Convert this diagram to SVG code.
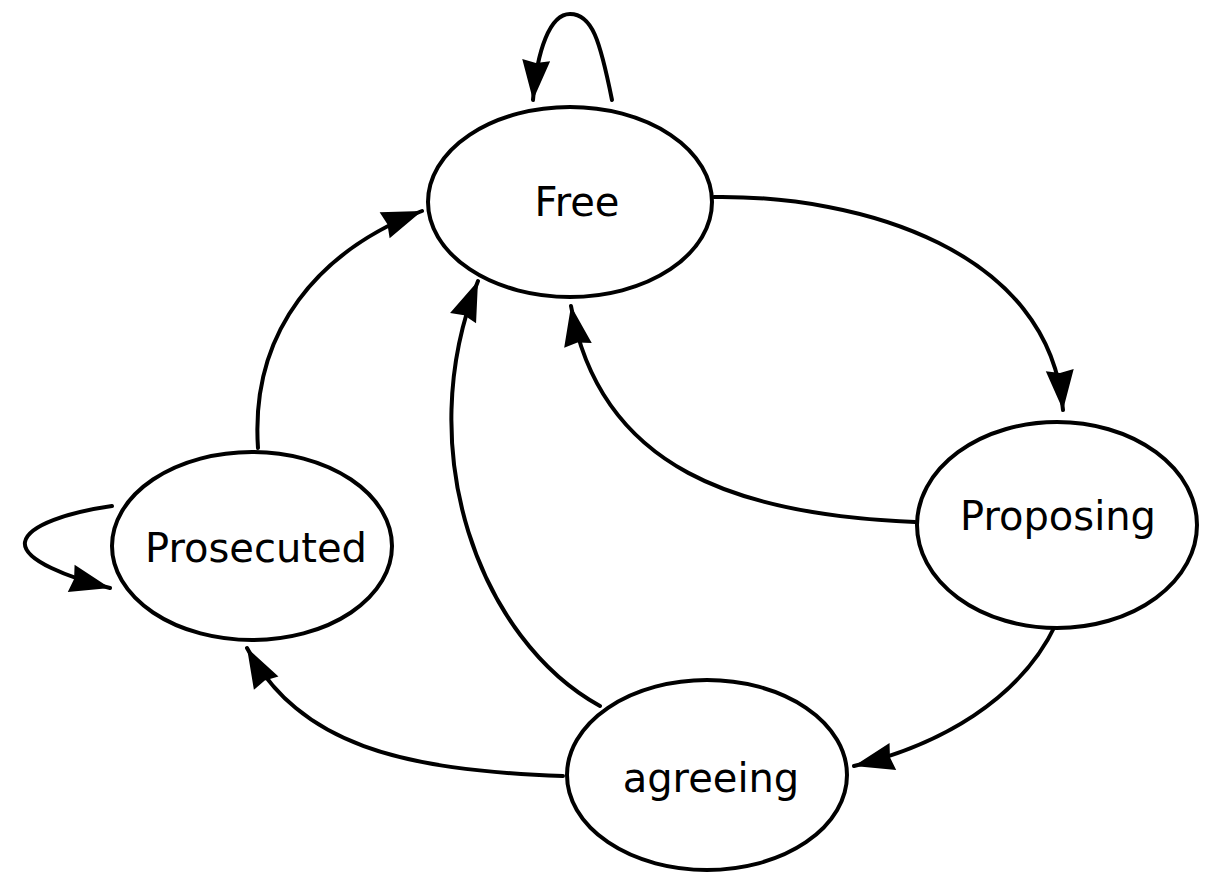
<svg xmlns="http://www.w3.org/2000/svg" width="1220" height="875" viewBox="0 0 1220 875">
  <style>
    .state { fill: #ffffff; stroke: #000000; stroke-width: 4; }
    .label { font-family: "DejaVu Sans", Verdana, sans-serif; font-size: 40px; fill: #000000; text-anchor: middle; dominant-baseline: central; }
    .edge { fill: none; stroke: #000000; stroke-width: 4; stroke-linecap: round; marker-end: url(#arrow); }
  </style>
  <defs>
    <marker id="arrow" markerUnits="userSpaceOnUse" markerWidth="44" markerHeight="32" refX="40" refY="14" orient="auto" overflow="visible">
      <path d="M0,0 L40,14 L0,28 L3,14 z" fill="#000000"/>
    </marker>
  </defs>
  <rect width="1220" height="875" fill="#ffffff"/>

  <g id="connectors">
    <!-- self loop on Free -->
    <path class="edge" d="M612,100 C600,40 592,14 570,14 C550,14 537,50 533,100"/>
    <!-- Free to Proposing -->
    <path class="edge" d="M714,197 C860,195 1050,250 1063,410"/>
    <!-- Proposing to Free -->
    <path class="edge" d="M915,522 C740,515 600,470 571,306"/>
    <!-- Proposing to agreeing -->
    <path class="edge" d="M1056,624 C1020,700 940,745 854,766"/>
    <!-- agreeing to Prosecuted -->
    <path class="edge" d="M563,776 C400,770 300,745 247,648"/>
    <!-- agreeing to Free -->
    <path class="edge" d="M600,706 C480,640 410,450 478,281"/>
    <!-- Prosecuted to Free -->
    <path class="edge" d="M258,448 C250,330 320,250 422,211"/>
    <!-- self loop on Prosecuted -->
    <path class="edge" d="M112,506 C70,512 28,525 25,542 C22,560 70,578 110,588"/>
  </g>

  <g id="free">
    <ellipse class="state" cx="570" cy="202" rx="142" ry="95"/>
    <text class="label" x="577" y="202">Free</text>
  </g>
  <g id="proposing">
    <ellipse class="state" cx="1057" cy="525" rx="140" ry="103"/>
    <text class="label" x="1058" y="516">Proposing</text>
  </g>
  <g id="prosecuted">
    <ellipse class="state" cx="252" cy="546" rx="140" ry="94"/>
    <text class="label" x="256" y="548">Prosecuted</text>
  </g>
  <g id="agreeing">
    <ellipse class="state" cx="707" cy="775" rx="140" ry="95"/>
    <text class="label" x="711" y="778">agreeing</text>
  </g>
</svg>
